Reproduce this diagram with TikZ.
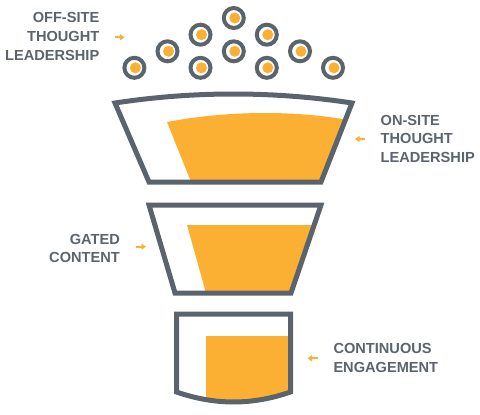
\documentclass[tikz,border=0pt]{standalone}
\usepackage{fontspec}
\setmainfont{Liberation Sans}
\usetikzlibrary{arrows.meta}
\definecolor{fgray}{HTML}{5B646C}
\definecolor{forange}{HTML}{FBB034}
\begin{document}
\begin{tikzpicture}[x=1pt,y=-1pt,
  outline/.style={draw=fgray,line width=5pt,line join=miter},
  lbl/.style={text=fgray,font=\fontsize{14.6}{18.6}\selectfont\bfseries,inner sep=0pt},
  pointer/.style={draw=forange,line width=1.8pt,-{Triangle[length=4.5pt,width=6pt]}},
  ring/.style={circle,draw=fgray,line width=4pt,minimum size=20pt,inner sep=0pt},
  dot/.style={circle,fill=forange,minimum size=11pt,inner sep=0pt}]
\useasboundingbox (0,0) rectangle (480,415);
% bubbles
\foreach \i/\x/\y in {1/134.4/67.8, 2/167.5/51.3, 3/200.5/34.7, 4/233.8/18, 5/266.8/34.7, 6/300/51.3, 7/333/67.8, 8/200.5/67.8, 9/233.8/51.3, 10/266.8/67.8} {
  \node[dot] (d\i) at (\x+1,\y) {};
  \node[ring] (r\i) at (\x,\y) {};
}
% top funnel section
\fill[forange] (167,122) .. controls (225,111) and (290,110) .. (345.5,119.5) -- (321,182) -- (191,182) -- cycle;
\draw[outline] (115,103) .. controls (194,91) and (273,91) .. (352,103) -- (321,182) -- (149,182) -- cycle;
% middle section
\fill[forange] (187,225) -- (314.2,225) -- (291,293) -- (206,293) -- cycle;
\draw[outline] (149,205) -- (321,205) -- (291,293) -- (175,293) -- cycle;
% bottom cup
\begin{scope}
\clip (176.5,314) -- (290.5,314) -- (290.5,392) .. controls (252,405.3) and (215,405.3) .. (176.5,392) -- cycle;
\fill[forange] (206,336) rectangle (295,410);
\end{scope}
\draw[outline] (176.5,314) -- (290.5,314) -- (290.5,392) .. controls (252,405.3) and (215,405.3) .. (176.5,392) -- cycle;
% labels
\node[lbl,align=right,anchor=north east] (offsite) at (99.5,12.5) {OFF-SITE\\THOUGHT\\LEADERSHIP};
\node[lbl,align=left,anchor=north west] (onsite) at (380.5,115) {ON-SITE\\THOUGHT\\LEADERSHIP};
\node[lbl,align=right,anchor=north east] (gated) at (120,234) {GATED\\CONTENT};
\node[lbl,align=left,anchor=north west] (cont) at (333.3,343.3) {CONTINUOUS\\ENGAGEMENT};
% pointers
\coordinate (p1s) at (115,37.3); \coordinate (p1e) at (124.5,37.3);
\coordinate (p2s) at (365,139); \coordinate (p2e) at (355,139);
\coordinate (p3s) at (136,246.7); \coordinate (p3e) at (146,246.7);
\coordinate (p4s) at (317.5,358.3); \coordinate (p4e) at (307.5,358.3);
\draw[pointer] (p1s) -- (p1e);
\draw[pointer] (p2s) -- (p2e);
\draw[pointer] (p3s) -- (p3e);
\draw[pointer] (p4s) -- (p4e);
\end{tikzpicture}
\end{document}
